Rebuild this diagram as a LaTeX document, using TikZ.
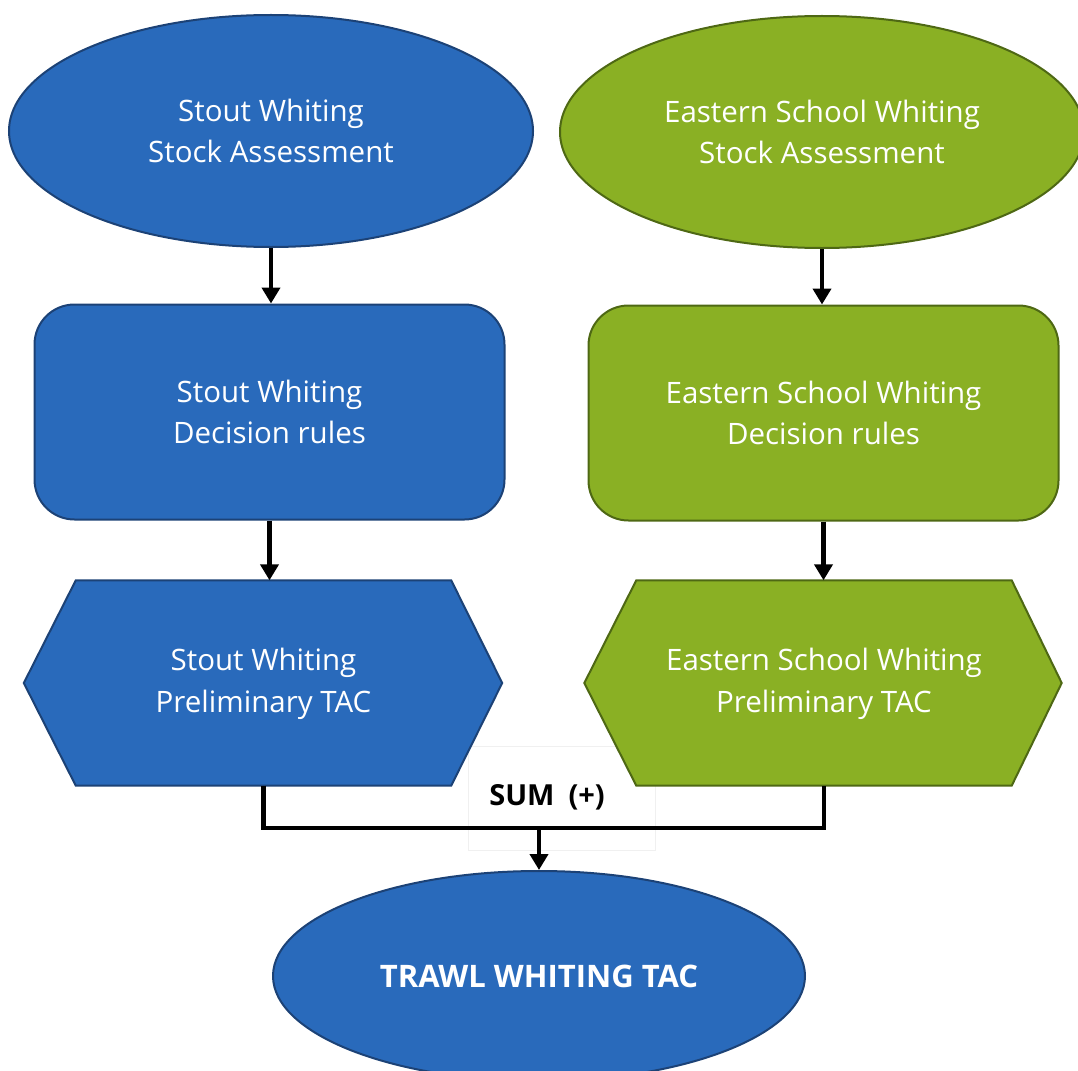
\documentclass[tikz,border=0pt]{standalone}
\usepackage{fontspec}
\setmainfont{Open Sans}
\usetikzlibrary{shapes.geometric,arrows.meta,backgrounds,calc}
\definecolor{bluef}{RGB}{41,106,187}
\definecolor{blued}{RGB}{28,66,118}
\definecolor{greenf}{RGB}{138,176,36}
\definecolor{greend}{RGB}{78,104,20}
\newcommand{\hextext}[2]{\raisebox{-5pt}{\begin{tabular}{@{}c@{}}#1\\#2\end{tabular}}}
\begin{document}
\begin{tikzpicture}[x=1pt,y=-1pt,
  txt/.style={text=white, font=\fontsize{29.5}{41.5}\selectfont, align=center},
  bl/.style={fill=bluef, draw=blued, line width=2pt},
  gr/.style={fill=greenf, draw=greend, line width=2pt},
  ell/.style={ellipse, minimum width=524, minimum height=232, inner sep=0pt},
  rbox/.style={rectangle, rounded corners=40, minimum width=470, minimum height=215, inner sep=0pt},
  hexbox/.style={rectangle, minimum width=375, minimum height=205, inner sep=0pt},
  arr/.style={line width=4.5pt, -{Triangle[width=18pt,length=16pt]}},
  conn/.style={line width=4.5pt}]
\useasboundingbox (0,0) rectangle (1078,1070);

\node[ell, bl, txt] (ellL) at (271,131) {Stout Whiting\\Stock Assessment};
\node[ell, gr, txt] (ellR) at (822,132) {Eastern School Whiting\\Stock Assessment};

\node[rbox, bl, txt] (rectL) at (269.5,412) {Stout Whiting\\Decision rules};
\node[rbox, gr, txt] (rectR) at (823.5,413) {Eastern School Whiting\\Decision rules};

\node[hexbox, txt] (hexL) at (263.5,683) {\hextext{Stout Whiting}{Preliminary TAC}};
\node[hexbox, txt] (hexR) at (824,683) {\hextext{Eastern School Whiting}{Preliminary TAC}};

\begin{scope}[on background layer]
  \draw[draw=black!6, line width=1pt] (468,746) rectangle (655,850);
  \draw[bl, line join=miter] (hexL.north west) -- (hexL.north east) -- ($(hexL.east)+(51,0)$) -- (hexL.south east) -- (hexL.south west) -- ($(hexL.west)+(-52,0)$) -- cycle;
  \draw[gr, line join=miter] (hexR.north west) -- (hexR.north east) -- ($(hexR.east)+(50,0)$) -- (hexR.south east) -- (hexR.south west) -- ($(hexR.west)+(-52,0)$) -- cycle;
\end{scope}

\node[ell, bl, minimum width=532, minimum height=210, text=white, font=\bfseries\fontsize{31}{36}\selectfont] (ellB) at (539,976) {TRAWL WHITING TAC};

\node[font=\bfseries\fontsize{29}{33}\selectfont, text=black] (sum) at (547,797) {SUM\hspace*{14pt}(+)};

\coordinate (j) at (539,828);

\draw[arr] (ellL.south) -- (ellL.south |- rectL.north);
\draw[arr] (ellR.south) -- (ellR.south |- rectR.north);
\draw[arr] (rectL.south) -- (rectL.south |- hexL.north);
\draw[arr] (rectR.south) -- (rectR.south |- hexR.north);
\draw[conn] (hexL.south) |- (j) -| (hexR.south);
\draw[arr] (j) -- (j |- ellB.north);
\end{tikzpicture}
\end{document}
